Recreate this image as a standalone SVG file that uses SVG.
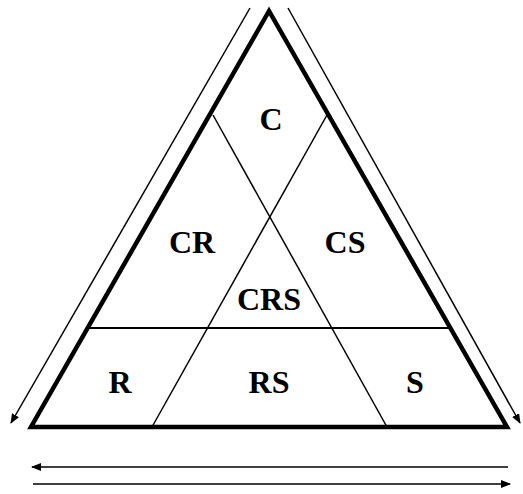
<svg xmlns="http://www.w3.org/2000/svg" width="523" height="494" viewBox="0 0 523 494">
<defs>
<style>
.lbl{font-family:"Liberation Serif","Times New Roman",serif;font-weight:bold;font-size:32px;fill:#000;text-anchor:middle}
.thin{stroke:#000;stroke-width:1.5;fill:none}
.mid{stroke:#000;stroke-width:2;fill:none}
</style>
<marker id="ah" viewBox="0 0 10 8" refX="9" refY="4" markerWidth="10" markerHeight="8" markerUnits="userSpaceOnUse" orient="auto">
<path d="M0,0 L10,4 L0,8 Z" fill="#000"/>
</marker>
</defs>
<rect width="523" height="494" fill="#fff"/>
<g id="connectors">
<line class="thin" x1="250" y1="8" x2="11" y2="423" marker-end="url(#ah)"/>
<line class="thin" x1="288" y1="8" x2="520" y2="423" marker-end="url(#ah)"/>
<line class="thin" x1="508" y1="467" x2="32" y2="467" marker-end="url(#ah)"/>
<line class="thin" x1="33" y1="484" x2="510" y2="484" marker-end="url(#ah)"/>
</g>
<g id="triangle">
<polygon points="269,11 31,427 507,427" fill="none" stroke="#000" stroke-width="4.5" stroke-linejoin="miter"/>
<line class="mid" x1="87" y1="328" x2="451" y2="328"/>
<line class="thin" x1="152" y1="427" x2="327" y2="115"/>
<line class="thin" x1="387" y1="427" x2="213" y2="115"/>
</g>
<g id="C"><text class="lbl" x="271" y="130">C</text></g>
<g id="CR"><text class="lbl" x="192" y="253">CR</text></g>
<g id="CS"><text class="lbl" x="345" y="253">CS</text></g>
<g id="CRS"><text class="lbl" x="269" y="310">CRS</text></g>
<g id="R"><text class="lbl" x="120" y="393">R</text></g>
<g id="RS"><text class="lbl" x="269" y="393">RS</text></g>
<g id="S"><text class="lbl" x="415" y="393">S</text></g>
</svg>
